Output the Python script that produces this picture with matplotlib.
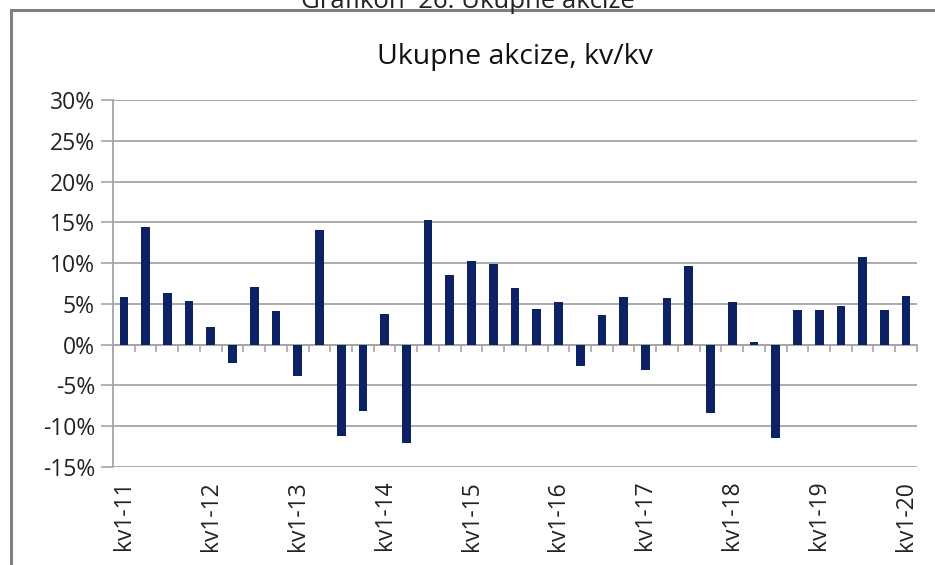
import matplotlib

matplotlib.use("Agg")
import matplotlib.pyplot as plt
from matplotlib.patches import Rectangle
from matplotlib.ticker import FuncFormatter, FixedLocator
import numpy as np

# quarterly y/y growth of total excise duties, in percent (kv1-11 .. kv1-20)
values = [5.9, 14.4, 6.3, 5.4, 2.2, -2.2, 7.1, 4.1, -3.9, 14.1,
          -11.2, -8.1, 3.7, -12.0, 15.3, 8.5, 10.2, 9.9, 6.9, 4.4,
          5.2, -2.6, 3.6, 5.9, -3.1, 5.7, 9.6, -8.4, 5.2, 0.3,
          -11.4, 4.2, 4.3, 4.8, 10.7, 4.2, 6.0]
years = ["11", "12", "13", "14", "15", "16", "17", "18", "19", "20"]
tick_labels = ["kv1-" + y for y in years]
yticks = [-15, -10, -5, 0, 5, 10, 15, 20, 25, 30]

BAR = "#0c2265"
GRID = "#a6a6a6"
FONT = ["Open Sans", "DejaVu Sans"]

plt.rcParams["font.family"] = FONT

fig = plt.figure(figsize=(9.35, 5.65), dpi=100)
ax = fig.add_axes([0.1209, 0.1735, 0.8598, 0.6495])

x = np.arange(len(values))
ax.bar(x, values, width=0.4, color=BAR, zorder=3)

ax.set_xlim(-0.5, len(values) - 0.5)
ax.set_ylim(yticks[0], yticks[-1])
ax.set_yticks(yticks)
ax.yaxis.set_major_formatter(FuncFormatter(lambda v, _: f"{v:.0f}%"))
ax.grid(axis="y", color=GRID, lw=1.3, zorder=0)
ax.tick_params(axis="y", length=9, color=GRID, width=1.2, labelsize=16.5,
               labelcolor="#222222", pad=4)

ax.set_xticks(x[::4])
ax.set_xticklabels(tick_labels, rotation=90, fontsize=16.5, color="#222222")
ax.tick_params(axis="x", length=0, pad=10)

for side in ("top", "right", "bottom"):
    ax.spines[side].set_visible(False)
ax.spines["left"].set_color(GRID)
ax.spines["left"].set_linewidth(1.3)

# category axis crossing at 0 with tick marks between categories
zero = (0 - yticks[0]) / (yticks[-1] - yticks[0])
sec = ax.secondary_xaxis(zero)
sec.xaxis.set_major_locator(FixedLocator(np.arange(len(values) + 1) - 0.5))
sec.set_xticklabels([])
sec.tick_params(axis="x", direction="out", length=5, color=GRID, width=1.2)
sec.spines["bottom"].set_color(GRID)
sec.spines["bottom"].set_linewidth(1.3)

ax.set_title("Ukupne akcize, kv/kv", fontsize=20.5, pad=26, color="#111111")

# outer chart frame and the clipped caption above it
fig.patches.append(Rectangle((11 / 935, -0.05), 1.0, 1 - 10 / 565 + 0.05,
                             transform=fig.transFigure, fill=False,
                             edgecolor="#808080", lw=2.2))
fig.text(0.5, 0.997, "Grafikon  26: Ukupne akcize", ha="center", va="center",
         fontsize=18.5, color="#222222")

fig.savefig("out.png", dpi=100)
